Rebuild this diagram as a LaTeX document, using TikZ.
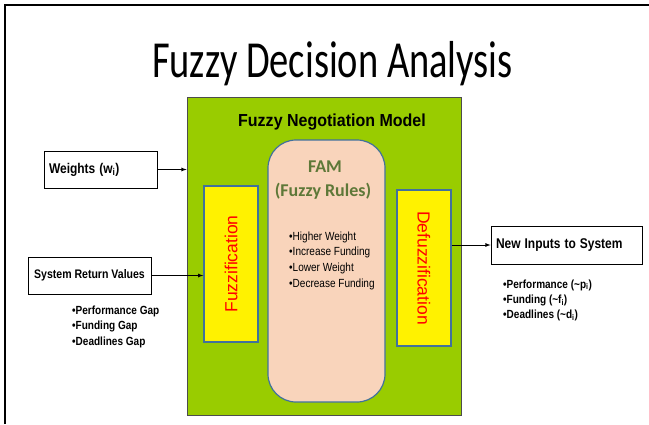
\documentclass[tikz,border=0pt]{standalone}
\usepackage{fontspec}
\setmainfont{Liberation Sans}
\newfontfamily\calib{Carlito}
\usetikzlibrary{arrows}

\definecolor{modelgreen}{RGB}{153,204,0}
\definecolor{boxblue}{RGB}{65,113,156}
\definecolor{peach}{RGB}{249,212,187}
\definecolor{famtext}{RGB}{94,120,56}

\newcommand\sq[1]{\scalebox{.85}[1]{#1}}

\tikzset{
	inbox/.style={draw, fill=white, line width=.8pt, minimum height=37pt, inner xsep=5pt, align=left, font=\bfseries\fontsize{14.1}{16}\selectfont},
	stage/.style={draw=boxblue, fill=yellow, line width=1.5pt, minimum width=156pt, minimum height=54pt, text=red, font=\fontsize{17.5}{20}\selectfont},
	bullet/.style={anchor=base west, inner sep=0pt, font=\bfseries\fontsize{11.8}{13}\selectfont},
}

\begin{document}
\begin{tikzpicture}[x=1pt,y=-1pt,>=latex]
		\useasboundingbox (0,0) rectangle (649,424);
		\draw[line width=2pt] (5,424) -- (5,5) -- (649,5);
		\node[anchor=base, inner sep=0pt, font=\calib\fontsize{52}{60}\selectfont] (title) at (332.5,77) {\scalebox{0.74}[1]{Fuzzy Decision Analysis}};
		
		% model and its stages
		\node[draw=black!70, fill=modelgreen, line width=.8pt, minimum width=274pt, minimum height=318pt] (model) at (324,256) {};
		\node[anchor=base, inner sep=0pt, font=\bfseries\fontsize{17.4}{19}\selectfont] (modeltitle) at (332,126) {\scalebox{.92}[1]{Fuzzy Negotiation Model}};
		\node[draw=boxblue, fill=peach, line width=1.2pt, rounded corners=28pt, minimum width=117pt, minimum height=262pt] (fam) at (326.5,271) {};
		\node[anchor=base, inner sep=0pt, text=famtext, font=\calib\bfseries\fontsize{18}{20}\selectfont] (famtitle) at (325,172) {FAM};
		\node[anchor=base, inner sep=0pt, text=famtext, font=\calib\bfseries\fontsize{18}{20}\selectfont] (famsub) at (323,196) {(Fuzzy Rules)};
		\foreach \r [count=\i] in {Higher Weight, Increase Funding, Lower Weight, Decrease Funding}
		\node[bullet, font=\fontsize{11.8}{13}\selectfont] (rule\i) at (289,{224.5+15.7*\i}) {\sq{\textbullet\r}};
		
		\node[stage, rotate=90] (fuzz) at (231,264) {Fuzzification};
		\node[stage, rotate=-90] (defuzz) at (424,268) {Defuzzification};
		
		% inputs
		\node[inbox, text width=103pt] (weights) at (100.5,169.5) {\sq{Weights (w\textsubscript{i})}};
		\node[inbox, minimum width=123pt, inner xsep=2pt, font=\bfseries\fontsize{12.4}{14}\selectfont] (sysret) at (89.5,275.5) {\sq{System Return Values}};
		\foreach \g [count=\i] in {Performance Gap, Funding Gap, Deadlines Gap}
		\node[bullet] (gap\i) at (72,{298.5+15.5*\i}) {\sq{\textbullet\g}};
		
		% output
		\node[inbox, text width=141pt, minimum height=38pt] (newin) at (566.5,245) {\sq{New Inputs to System}};
		\foreach \n [count=\i] in {Performance (\textasciitilde p\textsubscript{i}), Funding (\textasciitilde f\textsubscript{i}), Deadlines (\textasciitilde d\textsubscript{i})}
		\node[bullet] (new\i) at (503,{272.7+15.3*\i}) {\sq{\textbullet\n}};
		
		\draw[->, line width=.8pt] (weights.east) -- (weights.east -| model.west);
		\draw[->, line width=.8pt] (sysret.east) -- (sysret.east -| fuzz.north);
		\draw[->, line width=.8pt] (newin.west -| defuzz.north) -- (newin.west);
\end{tikzpicture}
\end{document}
